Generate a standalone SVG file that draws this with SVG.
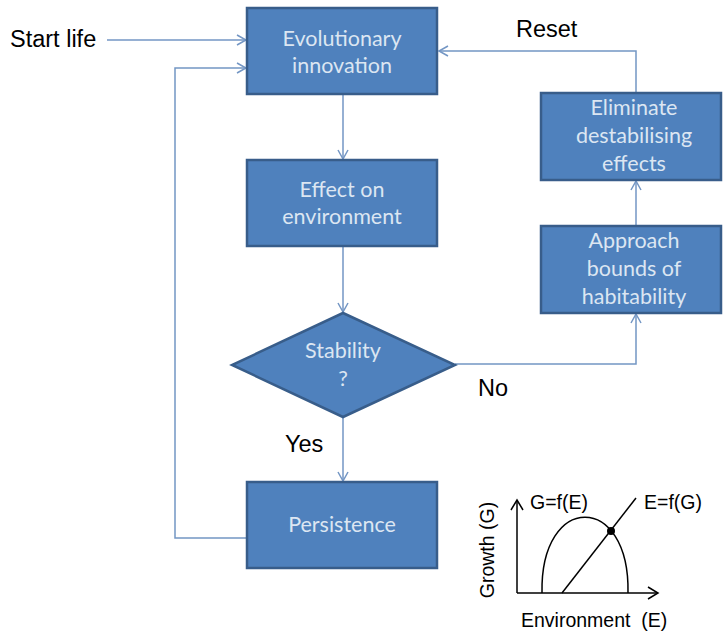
<svg xmlns="http://www.w3.org/2000/svg" width="723" height="632" viewBox="0 0 723 632">
<defs>
<style>
.box{fill:#4F81BD;stroke:#385D8A;stroke-width:2.5}
.bt{font-family:Lato,"Open Sans",sans-serif;font-size:21.5px;fill:#DCE6F2;text-anchor:middle}
.lbl{font-family:"Liberation Sans",Arial,sans-serif;font-size:23.5px;fill:#000}
.con{fill:none;stroke:#7396C4;stroke-width:1.5}
.g{fill:none;stroke:#000;stroke-width:1.5}
.gt{font-family:"Liberation Sans",Arial,sans-serif;font-size:19.5px;fill:#000}
</style>
<marker id="arr" markerWidth="12" markerHeight="12" refX="10" refY="6" orient="auto" markerUnits="userSpaceOnUse">
<path d="M1,1 L10,6 L1,11" fill="none" stroke="#7396C4" stroke-width="1.5"/>
</marker>
<marker id="garr" markerWidth="14" markerHeight="14" refX="11" refY="7" orient="auto" markerUnits="userSpaceOnUse">
<path d="M1,1 L11,7 L1,13" fill="none" stroke="#000" stroke-width="1.5"/>
</marker>
</defs>
<rect width="723" height="632" fill="#fff"/>
<g id="connectors">
<line class="con" x1="107" y1="40" x2="246" y2="40" marker-end="url(#arr)"/>
<polyline class="con" points="246,538 175,538 175,68 246,68" marker-end="url(#arr)"/>
<line class="con" x1="343" y1="95" x2="343" y2="159" marker-end="url(#arr)"/>
<line class="con" x1="343" y1="247" x2="343" y2="312" marker-end="url(#arr)"/>
<line class="con" x1="343" y1="417" x2="343" y2="481" marker-end="url(#arr)"/>
<polyline class="con" points="455,364 636,364 636,314" marker-end="url(#arr)"/>
<line class="con" x1="636" y1="226" x2="636" y2="181" marker-end="url(#arr)"/>
<polyline class="con" points="636,93 636,51 439,51" marker-end="url(#arr)"/>
</g>
<g id="start-life"><text class="lbl" x="10" y="47">Start life</text></g>
<g id="reset-label"><text class="lbl" x="516" y="37">Reset</text></g>
<g id="no-label"><text class="lbl" x="478" y="396">No</text></g>
<g id="yes-label"><text class="lbl" x="285" y="452">Yes</text></g>
<g id="evolutionary-innovation">
<rect class="box" x="247" y="8" width="190" height="86"/>
<text class="bt" x="342" y="46">Evolutionary</text>
<text class="bt" x="342" y="73">innovation</text>
</g>
<g id="effect-on-environment">
<rect class="box" x="247" y="160" width="190" height="86"/>
<text class="bt" x="342" y="197">Effect on</text>
<text class="bt" x="342" y="224">environment</text>
</g>
<g id="stability">
<polygon class="box" points="343,313 455,365 343,417 232,365"/>
<text class="bt" x="343" y="358">Stability</text>
<text class="bt" x="343" y="386">?</text>
</g>
<g id="persistence">
<rect class="box" x="247" y="482" width="190" height="86"/>
<text class="bt" x="342" y="532">Persistence</text>
</g>
<g id="eliminate">
<rect class="box" x="541" y="93" width="180" height="87"/>
<text class="bt" x="634" y="115">Eliminate</text>
<text class="bt" x="634" y="143">destabilising</text>
<text class="bt" x="634" y="171">effects</text>
</g>
<g id="approach">
<rect class="box" x="541" y="226" width="180" height="87"/>
<text class="bt" x="634" y="248">Approach</text>
<text class="bt" x="634" y="276">bounds of</text>
<text class="bt" x="634" y="304">habitability</text>
</g>
<g id="graph">
<line class="g" x1="517" y1="593" x2="517" y2="500" marker-end="url(#garr)"/>
<line class="g" x1="517" y1="593" x2="658" y2="593" marker-end="url(#garr)"/>
<path class="g" d="M542,593 C540,492 630,492 628,593"/>
<line class="g" x1="562" y1="593" x2="636" y2="498"/>
<circle cx="611" cy="531" r="4" fill="#000"/>
<text class="gt" x="530" y="509">G=f(E)</text>
<text class="gt" x="644" y="509">E=f(G)</text>
<text class="gt" x="521" y="627" xml:space="preserve">Environment  (E)</text>
<text class="gt" transform="translate(494,550) rotate(-90)" text-anchor="middle">Growth (G)</text>
</g>
</svg>
